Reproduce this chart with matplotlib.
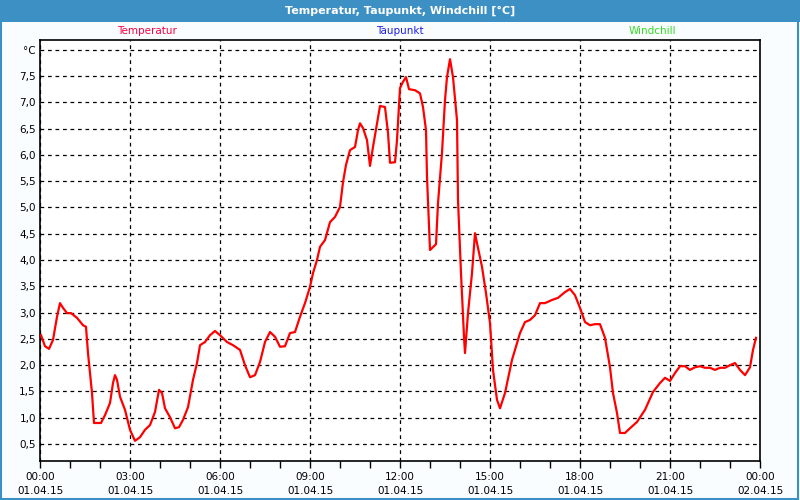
import matplotlib
matplotlib.use("Agg")
import matplotlib.pyplot as plt
from matplotlib.patches import Rectangle

# minutes since 01.04.15 00:00 and temperature in degC
minutes = [2, 10, 18, 26, 34, 40, 46, 54, 62, 74, 86, 92, 96, 104, 108, 122,
           130, 140, 146, 150, 154, 160, 170, 180, 190, 200, 210, 220, 230, 238,
           244, 250, 260, 270, 278, 286, 296, 306, 314, 320, 330, 340,
           350, 360, 374, 386, 400, 410, 420, 430, 440, 450, 460, 470, 480, 490,
           500, 510, 520, 530, 540, 546, 554, 560, 570,
           580, 590, 600, 606, 612, 620, 630, 636, 640, 646, 654, 660, 666, 674,
           680, 690, 696, 700, 710, 714, 720, 726, 732, 738, 750, 760, 766, 772,
           774, 780, 792, 796, 804, 810,
           814, 820, 826, 834, 836, 842, 848, 850, 856, 864, 870, 874, 884, 892,
           900, 906, 914, 920, 930, 944, 960, 970, 980, 990, 1000,
           1010, 1024, 1036, 1050, 1060, 1070, 1080, 1090, 1100, 1110, 1120,
           1130, 1140, 1146, 1154, 1160, 1170, 1180, 1194, 1210, 1226, 1240,
           1250, 1260, 1270, 1280, 1290, 1300, 1310, 1320, 1330, 1340, 1350,
           1360, 1370, 1380, 1390, 1400, 1410, 1420, 1426, 1432]
temperatur = [2.57, 2.36, 2.31, 2.48, 2.92, 3.18, 3.09, 2.99, 2.99, 2.90, 2.76,
              2.73, 2.23, 1.47, 0.90, 0.90, 1.05, 1.28, 1.66, 1.81, 1.72, 1.40,
              1.15, 0.77, 0.56, 0.63, 0.77, 0.86, 1.11, 1.53, 1.47, 1.18, 1.01,
              0.80, 0.82, 0.96, 1.20, 1.72, 2.04, 2.38, 2.44, 2.57,
              2.65, 2.57, 2.44, 2.38, 2.29, 2.00, 1.77, 1.81, 2.06, 2.44, 2.63,
              2.54, 2.35, 2.36, 2.61, 2.63, 2.92, 3.18, 3.49, 3.75, 4.00, 4.25,
              4.38,
              4.72, 4.82, 5.01, 5.48, 5.81, 6.09, 6.15, 6.47, 6.60, 6.51, 6.28,
              5.79, 6.15, 6.60, 6.93, 6.91, 6.42, 5.85, 5.86, 6.28, 7.27, 7.39,
              7.48, 7.25, 7.23, 7.17, 6.91, 6.47, 5.58, 4.19, 4.30, 5.08, 6.04,
              7.04,
              7.48, 7.82, 7.48, 6.66, 5.14, 3.75, 2.54, 2.23, 2.99, 3.75, 4.51,
              4.32, 3.87, 3.37, 2.80, 1.91, 1.34, 1.18, 1.47, 2.10, 2.61, 2.82,
              2.86, 2.95, 3.18,
              3.18, 3.24, 3.28, 3.39, 3.45, 3.33, 3.09, 2.82, 2.76, 2.78, 2.78,
              2.52, 1.96, 1.47, 1.09, 0.71, 0.71, 0.80, 0.92, 1.15, 1.49, 1.66,
              1.76, 1.70, 1.85, 1.98, 1.98, 1.91, 1.96, 1.98, 1.95, 1.95, 1.91,
              1.95, 1.95, 2.00, 2.04, 1.91, 1.81, 1.96, 2.29, 2.52]

x_major = [0, 3, 6, 9, 12, 15, 18, 21, 24]
x_labels = ["00:00\n01.04.15", "03:00\n01.04.15", "06:00\n01.04.15",
            "09:00\n01.04.15", "12:00\n01.04.15", "15:00\n01.04.15",
            "18:00\n01.04.15", "21:00\n01.04.15", "00:00\n02.04.15"]
y_ticks = [0.5, 1.0, 1.5, 2.0, 2.5, 3.0, 3.5, 4.0, 4.5, 5.0, 5.5, 6.0, 6.5,
           7.0, 7.5, 8.0]
y_labels = ["0,5", "1,0", "1,5", "2,0", "2,5", "3,0", "3,5", "4,0", "4,5",
            "5,0", "5,5", "6,0", "6,5", "7,0", "7,5", "°C"]
series_names = ["Temperatur", "Taupunkt", "Windchill"]
series_colors = ["#ff0040", "#2020e0", "#33dd22"]

title_blue = "#3d90c4"
plt.rcParams["font.family"] = ["DejaVu Sans"]

hours = [m / 60 for m in minutes]

fig = plt.figure(figsize=(8, 5), dpi=100, facecolor="#fafdff")
# title bar and thin frame
fig.patches.append(Rectangle((0, 0.956), 1, 0.044, transform=fig.transFigure,
                             facecolor=title_blue, edgecolor="none", zorder=0))
fig.patches.append(Rectangle((0.001, 0.002), 0.997, 0.996, transform=fig.transFigure,
                             facecolor="none", edgecolor=title_blue, lw=1.5, zorder=1))
fig.text(0.5, 0.978, "Temperatur, Taupunkt, Windchill [°C]", color="white",
         fontsize=8, fontweight="bold", ha="center", va="center")

ax = fig.add_axes([0.05, 0.078, 0.90, 0.842])
ax.set_facecolor("white")
ax.plot(hours, temperatur, color="#ff0000", lw=1.6, zorder=3)

ax.set_xlim(0, 24)
ax.set_ylim(0.177, 8.185)
ax.set_xticks(x_major)
ax.set_xticklabels(x_labels, fontsize=7.5, linespacing=1.45)
ax.set_xticks(range(0, 25), minor=True)
ax.set_yticks(y_ticks)
ax.set_yticklabels(y_labels, fontsize=7.5)
ax.tick_params(axis="y", length=0, pad=3)
ax.tick_params(axis="x", which="both", length=5, width=1, direction="out", pad=3)
ax.grid(True, color="black", linestyle=(0, (3, 3)), lw=0.9)
for s in ax.spines.values():
    s.set_linewidth(1.2)
    s.set_color("black")

for name, color, xpos in zip(series_names, series_colors, [0.184, 0.5, 0.815]):
    fig.text(xpos, 0.937, name, color=color, fontsize=7.5, ha="center", va="center")

fig.savefig("out.png", dpi=100, facecolor=fig.get_facecolor())
